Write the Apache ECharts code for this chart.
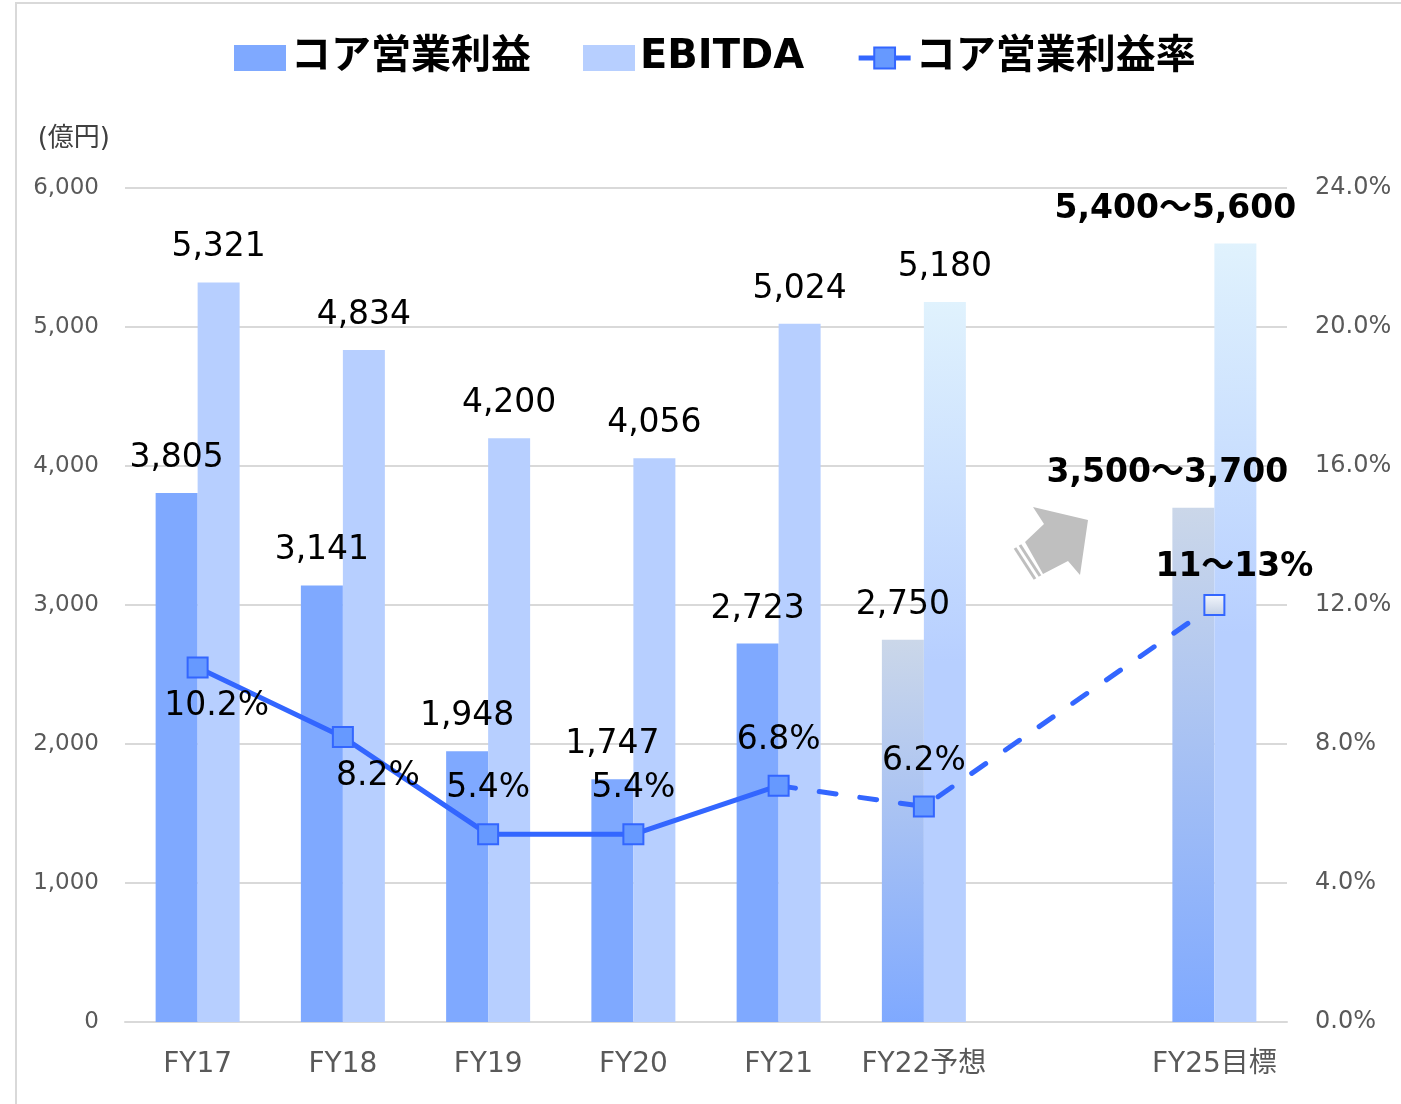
<!DOCTYPE html>
<html>
<head>
<meta charset="utf-8">
<script src="https://cdn.jsdelivr.net/npm/echarts@6/dist/echarts.min.js"></script>
<style>
html, body { margin: 0; padding: 0; background: #fff; }
#chart { width: 1401px; height: 1104px; }
</style>
</head>
<body>
<div id="chart"></div>
<script>
var categories = ['FY17', 'FY18', 'FY19', 'FY20', 'FY21', 'FY22予想', '', 'FY25目標'];
var coreProfit = [3805, 3141, 1948, 1747, 2723, 2750, null, 3700];
var ebitda = [5321, 4834, 4200, 4056, 5024, 5180, null, 5600];
var coreMargin = [10.2, 8.2, 5.4, 5.4, 6.8, 6.2, null, 12.0];
// FY25 targets are ranges, bars drawn at the top of the range
var coreTargetLabel = '3,500～3,700';
var ebitdaTargetLabel = '5,400～5,600';
var marginTargetLabel = '11～13%';
var forecastIdx = 5;
var targetIdx = 7;
var lastActualIdx = 4;

var FONT = '"DejaVu Sans", "Noto Sans CJK JP", sans-serif';
var grad = function (top, bottom, mid) {
    var stops = [{ offset: 0, color: top }];
    if (mid) stops.push({ offset: mid, color: bottom });
    stops.push({ offset: 1, color: bottom });
    return new echarts.graphic.LinearGradient(0, 0, 0, 1, stops);
};

var fmt = function (v) { return v.toLocaleString('en-US'); };

var coreData = coreProfit.map(function (v, i) {
    if (v == null) return null;
    var d = { value: v };
    if (i === forecastIdx || i === targetIdx) {
        d.itemStyle = { color: grad('#cbd7e9', '#7fa9ff') };
    }
    if (i === targetIdx) {
        d.label = { formatter: coreTargetLabel, fontWeight: 'bold', offset: [-26, 0] };
    }
    return d;
});

var ebitdaData = ebitda.map(function (v, i) {
    if (v == null) return null;
    var d = { value: v };
    if (i === forecastIdx || i === targetIdx) {
        d.itemStyle = { color: grad('#e0f2fd', '#b7cfff', 0.5) };
    }
    if (i === targetIdx) {
        d.label = { formatter: ebitdaTargetLabel, fontWeight: 'bold', offset: [-60, 0] };
    }
    return d;
});

// per-point label placement for the margin line
var marginLabelPos = [
    { position: 'bottom', distance: 11, offset: [19, 0] },
    { position: 'bottom', distance: 12, offset: [35, 0] },
    { position: 'top', distance: 18 },
    { position: 'top', distance: 18 },
    { position: 'top', distance: 18 },
    { position: 'top', distance: 18 },
    null,
    { position: 'top', distance: 10, offset: [20, 0], fontWeight: 'bold', formatter: marginTargetLabel }
];

var solidMargin = coreMargin.map(function (v, i) {
    if (i > lastActualIdx || v == null) return null;
    return { value: v, label: marginLabelPos[i] };
});
var dashedMargin = coreMargin.map(function (v, i) {
    if (i < lastActualIdx || v == null) return null;
    var d = { value: v, label: i === lastActualIdx ? { show: false } : marginLabelPos[i] };
    if (i === lastActualIdx) d.symbol = 'none';
    if (i === targetIdx) {
        d.itemStyle = { color: grad('#f5f8fd', '#c1cee3') };
    }
    return d;
});

var labelBase = {
    show: true,
    color: '#000',
    fontSize: 33,
    fontFamily: FONT
};

var chart = echarts.init(document.getElementById('chart'));
chart.setOption({
    animation: false,
    backgroundColor: '#fff',
    textStyle: { fontFamily: FONT },
    graphic: [
        {
            type: 'rect',
            shape: { x: 16, y: 3, width: 1500, height: 1300 },
            style: { fill: 'none', stroke: '#d9d9d9', lineWidth: 2 },
            silent: true
        },
        {
            type: 'polygon',
            shape: {
                points: [[1044, 524], [1033, 507], [1088, 520], [1080, 575], [1068, 561], [1043, 574], [1025, 542]]
            },
            style: { fill: '#bfbfbf' },
            silent: true
        },
        {
            type: 'line',
            shape: { x1: 1020, y1: 545, x2: 1040, y2: 576 },
            style: { stroke: '#bfbfbf', lineWidth: 3 },
            silent: true
        },
        {
            type: 'line',
            shape: { x1: 1015, y1: 548, x2: 1035, y2: 579 },
            style: { stroke: '#bfbfbf', lineWidth: 3 },
            silent: true
        }
    ],
    legend: {
        left: 229,
        top: 33,
        itemWidth: 52,
        itemHeight: 26,
        itemGap: 52,
        data: [
            { name: 'コア営業利益', icon: 'rect' },
            { name: 'EBITDA', icon: 'rect' },
            { name: 'コア営業利益率', lineStyle: { width: 5, type: 'solid' } }
        ],
        textStyle: { fontSize: 40, fontWeight: 'bold', color: '#000', fontFamily: FONT }
    },
    grid: { left: 125, right: 114, top: 188, bottom: 82 },
    xAxis: {
        type: 'category',
        data: categories,
        axisLine: { lineStyle: { color: '#d9d9d9', width: 2 } },
        axisTick: { show: false },
        axisLabel: { color: '#595959', fontSize: 28, margin: 29, interval: 0, fontFamily: FONT }
    },
    yAxis: [
        {
            type: 'value',
            min: 0,
            max: 6000,
            interval: 1000,
            name: '(億円)',
            nameLocation: 'end',
            nameGap: 36,
            nameTextStyle: { color: '#404040', fontSize: 26, align: 'right', padding: [0, 15, 0, 0], fontFamily: FONT },
            axisLine: { show: false },
            axisTick: { show: false },
            axisLabel: { color: '#595959', fontSize: 23, margin: 26, formatter: fmt, fontFamily: FONT },
            splitLine: { lineStyle: { color: '#d9d9d9', width: 2 } }
        },
        {
            type: 'value',
            min: 0,
            max: 24,
            interval: 4,
            position: 'right',
            axisLine: { show: false },
            axisTick: { show: false },
            splitLine: { show: false },
            axisLabel: {
                color: '#595959', fontSize: 24, margin: 28, fontFamily: FONT,
                formatter: function (v) { return v.toFixed(1) + '%'; }
            }
        }
    ],
    series: [
        {
            name: 'コア営業利益',
            type: 'bar',
            barWidth: 42,
            barGap: '0%',
            itemStyle: { color: '#7fa9ff' },
            label: Object.assign({ position: 'top', distance: 18, formatter: function (p) { return fmt(p.value); } }, labelBase),
            data: coreData,
            z: 2
        },
        {
            name: 'EBITDA',
            type: 'bar',
            barWidth: 42,
            barGap: '0%',
            itemStyle: { color: '#b7cfff' },
            label: Object.assign({ position: 'top', distance: 18, formatter: function (p) { return fmt(p.value); } }, labelBase),
            data: ebitdaData,
            z: 2
        },
        {
            name: 'コア営業利益率',
            type: 'line',
            yAxisIndex: 1,
            symbol: 'rect',
            symbolSize: 20,
            itemStyle: { color: '#6699ff', borderColor: '#3366ff', borderWidth: 2 },
            lineStyle: { color: '#3366ff', width: 5 },
            label: Object.assign({ formatter: function (p) { return p.value.toFixed(1) + '%'; } }, labelBase),
            data: solidMargin,
            z: 5
        },
        {
            name: 'コア営業利益率',
            type: 'line',
            yAxisIndex: 1,
            symbol: 'rect',
            symbolSize: 20,
            connectNulls: true,
            itemStyle: { color: '#6699ff', borderColor: '#3366ff', borderWidth: 2 },
            lineStyle: { color: '#3366ff', width: 5, type: [17, 24], cap: 'round' },
            label: Object.assign({ formatter: function (p) { return p.value.toFixed(1) + '%'; } }, labelBase),
            data: dashedMargin,
            z: 4
        }
    ]
});
</script>
</body>
</html>
